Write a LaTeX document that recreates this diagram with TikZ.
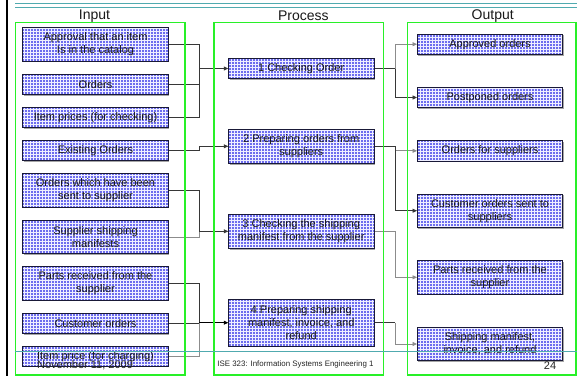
\documentclass[tikz,border=0pt]{standalone}
\usepackage{fontspec}
\setmainfont{Liberation Sans}
\usetikzlibrary{arrows.meta,patterns,shadows,backgrounds}

\definecolor{boxblue}{RGB}{108,108,238}
\definecolor{gridcol}{RGB}{238,238,255}
\definecolor{boxline}{RGB}{25,25,55}
\definecolor{frameg}{RGB}{40,240,40}
\definecolor{rulecol}{RGB}{80,170,175}
\definecolor{wire}{RGB}{55,55,55}
\definecolor{wirelight}{RGB}{140,140,140}

\begin{document}
\begin{tikzpicture}[x=1pt,y=-1pt,
  flowbox/.style={fill=boxblue,
    postaction={pattern=grid, pattern color=gridcol},
    postaction={draw=boxline, line width=0.8pt},
    drop shadow={shadow xshift=1.2pt, shadow yshift=-1.2pt, fill=black!35, opacity=1},
    minimum width=145.5pt, inner sep=1pt, align=center,
    font=\fontsize{11}{13}\selectfont, text=black!90},
  column/.style={draw=frameg, line width=1.1pt},
  coltitle/.style={font=\fontsize{14}{16}\selectfont, text=black!90},
  conn/.style={draw=wire, line width=0.8pt},
  connlight/.style={draw=wirelight, line width=0.8pt},
  tip/.style={-{Triangle[length=4.5pt,width=4pt]}},
  footer/.style={font=\fontsize{11}{13}\selectfont, text=black!85}
]
\useasboundingbox (0,0) rectangle (577,376);

% column titles
\node[coltitle] (tin)  at (94.5,16) {Input};
\node[coltitle] (tpro) at (303.3,16) {Process};
\node[coltitle] (tout) at (492.7,16) {Output};

% inputs
\node[flowbox, minimum height=33.7pt] (I1) at (95.5,44.2) {Approval that an item\\Is in the catalog};
\node[flowbox, minimum height=19.6pt] (I2) at (95.5,84.5) {Orders};
\node[flowbox, minimum height=20.4pt] (I3) at (95.5,117.5) {Item prices (for checking)};
\node[flowbox, minimum height=20pt]   (I4) at (95.5,150.7) {Existing Orders};
\node[flowbox, minimum height=33.7pt] (I5) at (95.5,190.2) {Orders which have been\\sent to supplier};
\node[flowbox, minimum height=33.4pt] (I6) at (95.5,237) {Supplier shipping\\manifests};
\node[flowbox, minimum height=33.3pt] (I7) at (95.5,283.3) {Parts received from the\\supplier};
\node[flowbox, minimum height=20pt]   (I8) at (95.5,323.3) {Customer orders};
\node[flowbox, minimum height=19.3pt] (I9) at (95.5,356.3) {Item price (for charging)};

% processes
\node[flowbox, minimum height=20.4pt] (P1) at (301.2,68.5) {1 Checking Order};
\node[flowbox, minimum height=34pt]   (P2) at (301.2,146.3) {2 Preparing orders from\\suppliers};
\node[flowbox, minimum height=34pt]   (P3) at (301.2,231.3) {3 Checking the shipping\\manifest from the supplier};
\node[flowbox, minimum height=46.7pt] (P4) at (301.2,322.7) {4 Preparing shipping\\manifest, invoice, and\\refund};

% outputs
\node[flowbox, minimum height=20.3pt] (O1) at (490,44.2) {Approved orders};
\node[flowbox, minimum height=20.4pt] (O2) at (490,97.5) {Postponed orders};
\node[flowbox, minimum height=20.3pt] (O3) at (490,150.8) {Orders for suppliers};
\node[flowbox, minimum height=33.3pt] (O4) at (490,210.7) {Customer orders sent to\\suppliers};
\node[flowbox, minimum height=33.3pt] (O5) at (490,277.3) {Parts received from the\\supplier};
\node[flowbox, minimum height=33.4pt] (O6) at (490,344) {Shipping manifest,\\invoice, and refund};

% junction points of the wiring
\coordinate (j1) at (199,68.5);
\coordinate (j2) at (199,146.3);
\coordinate (j3) at (199,231.3);
\coordinate (j4) at (199,322.7);
\coordinate (k1) at (395,68.5);
\coordinate (k2) at (395,146.3);
\coordinate (k3) at (395,231.3);
\coordinate (k4) at (395,322.7);

\begin{pgfonlayer}{background}
  % inputs to processes
  \draw[conn] (I1.east) -| (j1);
  \draw[conn] (I3.east) -| (j1);
  \draw[conn] (I2.east) -- (I2.east -| j1);
  \draw[conn,tip] (j1) -- (P1.west);
  \draw[conn] (I4.east) -| (j2);
  \draw[conn,tip] (j2) -- (P2.west);
  \draw[conn] (I5.east) -| (j3);
  \draw[connlight] (I6.east) -| (j3);
  \draw[conn,tip] (j3) -- (P3.west);
  \draw[conn] (I7.east) -| (j4);
  \draw[connlight] (I9.east) -| (j4);
  \draw[conn] (I8.east) -- (I8.east -| j4);
  \draw[conn,draw=black,tip] (j4) -- (P4.west);
  % processes to outputs
  \draw[conn] (P1.east) -- (k1);
  \draw[connlight,tip] (k1) |- (O1.west);
  \draw[conn,tip] (k1) |- (O2.west);
  \draw[conn] (P2.east) -- (k2);
  \draw[connlight,tip] (k2) |- (O3.west);
  \draw[conn,tip] (k2) |- (O4.west);
  \draw[connlight] (P3.east) -- (k3);
  \draw[connlight,tip] (k3) |- (O5.west);
  \draw[conn] (P4.east) -- (k4);
  \draw[connlight,tip] (k4) |- (O6.west);
  % column frames
  \draw[column] (15.7,22.7) rectangle (185,375);
  \draw[column] (214,22.7) rectangle (383.3,375);
  \draw[column] (407.3,22.7) rectangle (576,375);
\end{pgfonlayer}

% slide rules
\draw[black, line width=2pt] (7,0) -- (7,376);
\draw[rulecol, line width=1pt] (15,3.5) -- (577,3.5);
\draw[rulecol, line width=1pt] (15,7.5) -- (577,7.5);
\draw[rulecol, line width=0.9pt] (15,351.7) -- (577,351.7);

% footer
\node[footer] (date) at (85,365) {November 11, 2009};
\node[font=\fontsize{7.9}{9}\selectfont, text=black!85] (course) at (295.5,364) {ISE 323: Information Systems Engineering 1};
\node[footer] (page) at (550,366) {24};
\end{tikzpicture}
\end{document}
